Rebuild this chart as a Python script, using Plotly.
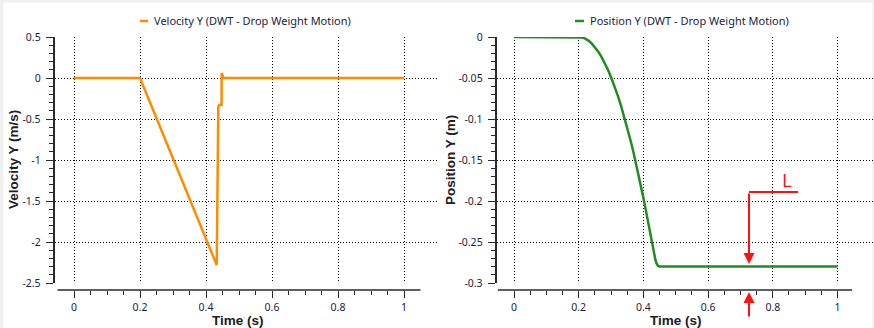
import plotly.graph_objects as go

W, H = 874, 328

# ---------------- data ----------------
time_vel = [0.0, 0.2, 0.4324, 0.4373, 0.4400, 0.4470, 0.4475, 0.4490, 0.4525,
            0.60, 0.615, 0.62, 0.645, 0.65, 0.68, 0.685, 0.71, 0.715, 0.74, 0.745,
            0.77, 0.775, 0.79, 0.795, 1.0]
velocity_y = [0.0, 0.0, -2.28, -0.35, -0.33, -0.33, 0.06, 0.05, 0.0,
              0.0, -0.006, 0.0, -0.006, 0.0, -0.006, 0.0, -0.006, 0.0, -0.006, 0.0,
              -0.006, 0.0, -0.006, 0.0, 0.0]

time_pos = [0.0, 0.2, 0.21, 0.22, 0.23, 0.24, 0.25, 0.26, 0.27, 0.28, 0.29,
            0.30, 0.31, 0.32, 0.33, 0.34, 0.35, 0.36, 0.37, 0.38, 0.39,
            0.40, 0.41, 0.42, 0.43, 0.4324, 0.437, 0.441, 0.445, 0.45, 1.0]
position_y = [0.0, 0.0, -0.0005, -0.0020, -0.0044, -0.0079, -0.0123, -0.0177,
              -0.0240, -0.0314, -0.0397, -0.0491, -0.0594, -0.0706, -0.0829,
              -0.0961, -0.1104, -0.1256, -0.1418, -0.1589, -0.1771, -0.1962,
              -0.2163, -0.2374, -0.2595, -0.2649, -0.2715, -0.2765, -0.2792,
              -0.2800, -0.2800]

x_ticks = [0, 0.2, 0.4, 0.6, 0.8, 1.0]
x_ticktext = ["0", "0.2", "0.4", "0.6", "0.8", "1"]
x_minor = [0.05, 0.1, 0.15, 0.25, 0.3, 0.35, 0.45, 0.5, 0.55, 0.65, 0.7, 0.75,
           0.85, 0.9, 0.95]

vel_ticks = [0.5, 0, -0.5, -1, -1.5, -2, -2.5]
vel_ticktext = ["0.5", "0", "-0.5", "-1", "-1.5", "-2", "-2.5"]
pos_ticks = [0, -0.05, -0.1, -0.15, -0.2, -0.25, -0.3]
pos_ticktext = ["0", "-0.05", "-0.1", "-0.15", "-0.2", "-0.25", "-0.3"]

marker_t = 0.7264     # position of the "L" marker
marker_top = -0.189
# --------------------------------------

def px_x(p):
    return p / W

def px_y(p):
    return 1 - p / H

ORANGE = "#FF8C00"
GREEN = "#228B22"
RED = "#FF1010"
TXT = "#1c1c3c"
AX = "#2a2a2a"
TICKFONT = dict(family="Noto Sans, DejaVu Sans", size=10.5, color=TXT)
TITLEFONT = dict(family="Liberation Sans, Arial", size=13.5, color="#202020")

fig = go.Figure()
fig.add_trace(go.Scatter(x=time_vel, y=velocity_y, mode="lines",
                         line=dict(color=ORANGE, width=2.5),
                         xaxis="x", yaxis="y", showlegend=False))
fig.add_trace(go.Scatter(x=time_pos, y=position_y, mode="lines",
                         line=dict(color=GREEN, width=2.5),
                         xaxis="x2", yaxis="y2", showlegend=False))

ydom = [px_y(283), px_y(37)]
xaxis_pos = px_y(290)

def xaxis_cfg(domain, rng):
    return dict(domain=domain, range=rng, anchor="free", position=xaxis_pos,
                automargin=False,
                tickmode="array", tickvals=x_ticks, ticktext=x_ticktext,
                ticks="outside", ticklen=7, tickwidth=1.2, tickcolor=AX,
                minor=dict(tickmode="array", tickvals=x_minor, ticks="outside",
                           ticklen=4, tickwidth=1.2, tickcolor=AX, showgrid=False),
                showline=False, zeroline=False,
                showgrid=True, gridcolor="#000000", gridwidth=1, griddash="1px,2px",
                tickfont=TICKFONT, fixedrange=True)

def yaxis_cfg(rng, tv, tt, minor_dtick, anchor_x):
    return dict(domain=ydom, range=rng, anchor=anchor_x, automargin=False,
                tickmode="array", tickvals=tv, ticktext=tt,
                ticks="outside", ticklen=7, tickwidth=1.2, tickcolor=AX,
                minor=dict(dtick=minor_dtick, tick0=0, ticks="outside", ticklen=4,
                           tickwidth=1.2, tickcolor=AX, showgrid=False),
                showline=True, linecolor=AX, linewidth=1.5, zeroline=False,
                showgrid=True, gridcolor="#000000", gridwidth=1, griddash="1px,2px",
                tickfont=TICKFONT, ticklabelstandoff=3, fixedrange=True)

fig.update_layout(
    template="none",
    width=W, height=H, margin=dict(l=0, r=0, t=0, b=0, pad=0),
    paper_bgcolor="white", plot_bgcolor="white", showlegend=False,
    xaxis=xaxis_cfg([px_x(54.5), px_x(439)],
                    [(54.5 - 74) / 330, (439 - 74) / 330]),
    yaxis=yaxis_cfg([-2.5, 0.5], vel_ticks, vel_ticktext, 0.1, "x"),
    xaxis2=xaxis_cfg([px_x(496.5), 1.0],
                     [(496.5 - 514) / 323.5, (874 - 514) / 323.5]),
    yaxis2=yaxis_cfg([-0.3, 0.0], pos_ticks, pos_ticktext, 0.01, "x2"),
)

shapes = []
# gray frame
shapes.append(dict(type="rect", xref="paper", yref="paper", x0=0, x1=px_x(3.5),
                   y0=0, y1=1, fillcolor="#f0f0f0", line=dict(width=0), layer="below"))
shapes.append(dict(type="rect", xref="paper", yref="paper", x0=0, x1=1,
                   y0=px_y(2.5), y1=1, fillcolor="#f0f0f0", line=dict(width=0), layer="below"))
shapes.append(dict(type="rect", xref="paper", yref="paper", x0=px_x(872.5), x1=1,
                   y0=0, y1=1, fillcolor="#f0f0f0", line=dict(width=0), layer="below"))
# x axis lines (offset below plot area)
shapes.append(dict(type="line", xref="x", yref="paper", x0=-0.05, x1=1.05,
                   y0=xaxis_pos, y1=xaxis_pos, line=dict(color=AX, width=1.5)))
shapes.append(dict(type="line", xref="x2", yref="paper", x0=-0.05, x1=1.045,
                   y0=xaxis_pos, y1=xaxis_pos, line=dict(color=AX, width=1.5)))
# legend line samples
shapes.append(dict(type="line", xref="paper", yref="paper", x0=px_x(140), x1=px_x(148),
                   y0=px_y(21), y1=px_y(21), line=dict(color=ORANGE, width=2.5)))
shapes.append(dict(type="line", xref="paper", yref="paper", x0=px_x(575), x1=px_x(584),
                   y0=px_y(21), y1=px_y(21), line=dict(color=GREEN, width=2.5)))
# red "L" marker horizontal line
shapes.append(dict(type="line", xref="x2", yref="y2", x0=marker_t, x1=0.878,
                   y0=marker_top, y1=marker_top, line=dict(color=RED, width=2)))
fig.update_layout(shapes=shapes)

ann = []
ann.append(dict(text="Velocity Y (DWT - Drop Weight Motion)", xref="paper", yref="paper",
                x=px_x(152), y=px_y(21), xanchor="left", yanchor="middle", showarrow=False,
                font=dict(family="Noto Sans, DejaVu Sans", size=11, color=TXT)))
ann.append(dict(text="Position Y (DWT - Drop Weight Motion)", xref="paper", yref="paper",
                x=px_x(588), y=px_y(21), xanchor="left", yanchor="middle", showarrow=False,
                font=dict(family="Noto Sans, DejaVu Sans", size=11, color=TXT)))
ann.append(dict(text="<b>Time (s)</b>", xref="paper", yref="paper",
                x=px_x(238), y=px_y(320), xanchor="center", yanchor="middle",
                showarrow=False, font=TITLEFONT))
ann.append(dict(text="<b>Time (s)</b>", xref="paper", yref="paper",
                x=px_x(676), y=px_y(320), xanchor="center", yanchor="middle",
                showarrow=False, font=TITLEFONT))
ann.append(dict(text="<b>Velocity Y (m/s)</b>", xref="paper", yref="paper",
                x=px_x(13), y=px_y(160), xanchor="center", yanchor="middle",
                textangle=-90, showarrow=False, font=TITLEFONT))
ann.append(dict(text="<b>Position Y (m)</b>", xref="paper", yref="paper",
                x=px_x(450), y=px_y(160), xanchor="center", yanchor="middle",
                textangle=-90, showarrow=False, font=TITLEFONT))
# red L
ann.append(dict(text="L", xref="paper", yref="paper", x=px_x(787), y=px_y(180),
                xanchor="center", yanchor="middle", showarrow=False,
                font=dict(family="Open Sans, Noto Sans", size=19, color=RED)))
# down arrow to the resting line
ann.append(dict(text="", xref="x2", yref="y2", x=marker_t, y=-0.2768,
                axref="x2", ayref="y2", ax=marker_t, ay=marker_top,
                showarrow=True, arrowhead=2, arrowsize=1.1, arrowwidth=2,
                arrowcolor=RED, standoff=0))
# up arrow under the axis
ann.append(dict(text="", xref="x2", yref="paper", x=marker_t, y=px_y(292),
                ax=0, ay=26, showarrow=True, arrowhead=2, arrowsize=1.1,
                arrowwidth=2, arrowcolor=RED, standoff=0))
fig.update_layout(annotations=ann)

fig.write_html("out.html")
